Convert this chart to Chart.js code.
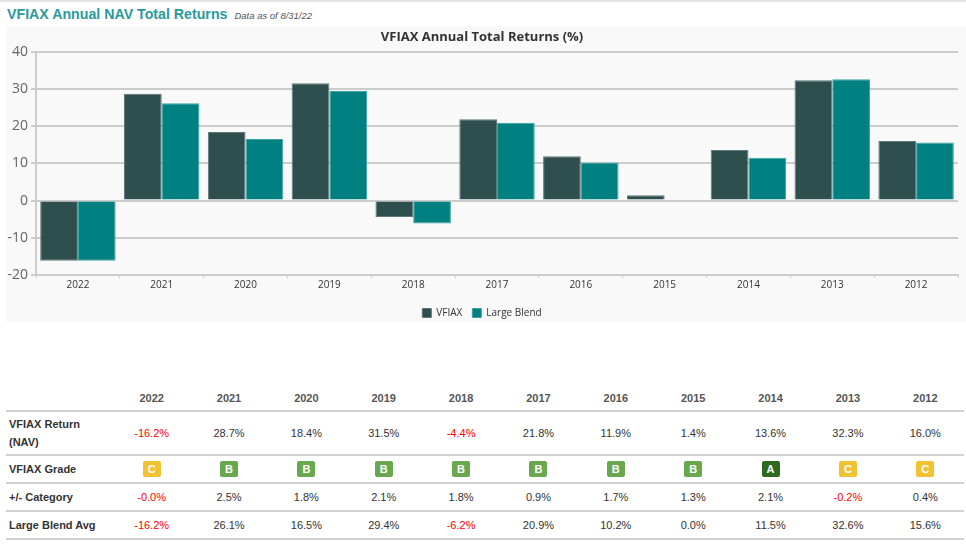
<!DOCTYPE html>
<html lang="en">
<head>
  <meta charset="UTF-8">
  <title>VFIAX Annual NAV Total Returns</title>
  <script src="https://cdn.jsdelivr.net/npm/chart.js@4.4.0/dist/chart.umd.min.js"></script>
  <style>
    body {
      margin: 0;
      background: #ffffff;
      font-family: "Liberation Sans", Arial, sans-serif;
      width: 966px;
      height: 545px;
      overflow: hidden;
      position: relative;
    }
    #topline {
      position: absolute; left: 0; top: 0; width: 966px; height: 2px; background: #e2e2e2;
    }
    #heading {
      position: absolute; left: 7px; top: 5px; white-space: nowrap;
    }
    #heading h2 {
      display: inline; margin: 0; font-size: 14.2px; font-weight: bold; color: #2a9a9c;
    }
    #heading span {
      font-size: 9.5px; font-style: italic; color: #555; margin-left: 7px;
    }
    #panel {
      position: absolute; left: 6px; top: 26px; width: 960px; height: 296px; background: #f9f9f9;
      overflow: hidden;
    }
    #returns-table {
      position: absolute; left: 6px; top: 385px; width: 958px;
      border-collapse: collapse; font-size: 11px; color: #333;
    }
    #returns-table th, #returns-table td {
      text-align: center; padding: 0; width: 77.4px;
    }
    #returns-table th { height: 25px; color: #555; font-weight: bold; border-bottom: 2px solid #d0d0d0; }
    #returns-table td { border-bottom: 2px solid #d0d0d0; height: 26px; }
    #returns-table td.lbl, #returns-table th.lbl { text-align: left; padding-left: 3px; width: 104px; font-weight: bold; color: #333; }
    #returns-table tr.tall td { height: 42px; }
    #returns-table tr.tall td.lbl { line-height: 18px; }
    .neg { color: #ff0000; }
    .grade {
      display: inline-block; width: 18px; height: 16px; line-height: 16px; border-radius: 2px;
      color: #fff; font-weight: bold; font-size: 11px; vertical-align: middle;
    }
    .gA { background: #2d6a1f; }
    .gB { background: #6aa84f; }
    .gC { background: #f1c232; }
  </style>
</head>
<body>
  <div id="topline"></div>
  <div id="heading"><h2>VFIAX Annual NAV Total Returns</h2><span>Data as of 8/31/22</span></div>

  <!-- canvas is a bit taller than the panel so the legend sits lower -->
  <div id="panel">
    <canvas id="returns-chart" width="960" height="302"></canvas>
  </div>

  <table id="returns-table">
    <thead><tr id="head-row"><th class="lbl"></th></tr></thead>
    <tbody id="table-body"></tbody>
  </table>

  <script>
    var years = ['2022', '2021', '2020', '2019', '2018', '2017', '2016', '2015', '2014', '2013', '2012'];
    var fundReturns = [-16.2, 28.7, 18.4, 31.5, -4.4, 21.8, 11.9, 1.4, 13.6, 32.3, 16.0];
    var blendReturns = [-16.2, 26.1, 16.5, 29.4, -6.2, 20.9, 10.2, 0.0, 11.5, 32.6, 15.6];
    var fundGrades = ['C', 'B', 'B', 'B', 'B', 'B', 'B', 'B', 'A', 'C', 'C'];
    var vsCategory = ['-0.0', '2.5', '1.8', '2.1', '1.8', '0.9', '1.7', '1.3', '2.1', '-0.2', '0.4'];

    var ctx = document.getElementById('returns-chart').getContext('2d');
    var returnsChart = new Chart(ctx, {
      type: 'bar',
      data: {
        labels: years,
        datasets: [{
          label: 'VFIAX',
          data: fundReturns,
          backgroundColor: '#2f4f4f',
          borderColor: '#5d7878',
          borderWidth: 1
        }, {
          label: 'Large Blend',
          data: blendReturns,
          backgroundColor: '#008080',
          borderColor: '#3aa3a3',
          borderWidth: 1
        }]
      },
      options: {
        responsive: false,
        animation: false,
        devicePixelRatio: 1,
        categoryPercentage: 0.9,
        barPercentage: 1.0,
        layout: { padding: { left: 0, right: 8, top: 0, bottom: 0 } },
        plugins: {
          title: {
            display: true,
            text: 'VFIAX Annual Total Returns (%)',
            color: '#333',
            font: { family: 'Open Sans', size: 13, weight: 'bold' },
            padding: { top: 3, bottom: 7 }
          },
          legend: {
            position: 'bottom',
            labels: {
              boxWidth: 9,
              boxHeight: 9,
              padding: 10,
              color: '#333',
              font: { family: 'Open Sans', size: 10 }
            }
          },
          tooltip: { enabled: false }
        },
        scales: {
          x: {
            afterFit: function (axis) { axis.height += 6; },
            grid: { drawOnChartArea: false, color: '#cccccc', tickLength: 3 },
            border: { color: '#cccccc', width: 2 },
            ticks: { color: '#333', font: { family: 'Open Sans', size: 10 }, padding: 1 }
          },
          y: {
            min: -20,
            max: 40,
            afterFit: function (axis) { axis.width = 30; },
            grid: { color: '#cccccc', lineWidth: 2, tickLength: 5 },
            border: { color: '#cccccc', width: 2 },
            ticks: { stepSize: 10, color: '#666', font: { family: 'Open Sans', size: 14 }, padding: 3 }
          }
        }
      }
    });

    // table under the chart
    var headRow = document.getElementById('head-row');
    years.forEach(function (y) {
      var th = document.createElement('th');
      th.textContent = y;
      headRow.appendChild(th);
    });

    function pct(v) {
      var s = typeof v === 'number' ? v.toFixed(1) : v;
      var neg = String(s).charAt(0) === '-';
      return '<td' + (neg ? ' class="neg"' : '') + '>' + s + '%</td>';
    }

    var body = document.getElementById('table-body');
    var html = '';
    html += '<tr class="tall"><td class="lbl">VFIAX Return<br>(NAV)</td>' + fundReturns.map(pct).join('') + '</tr>';
    html += '<tr><td class="lbl">VFIAX Grade</td>' + fundGrades.map(function (g) {
      return '<td><span class="grade g' + g + '">' + g + '</span></td>';
    }).join('') + '</tr>';
    html += '<tr><td class="lbl">+/- Category</td>' + vsCategory.map(pct).join('') + '</tr>';
    html += '<tr><td class="lbl">Large Blend Avg</td>' + blendReturns.map(pct).join('') + '</tr>';
    body.innerHTML = html;
  </script>
</body>
</html>
